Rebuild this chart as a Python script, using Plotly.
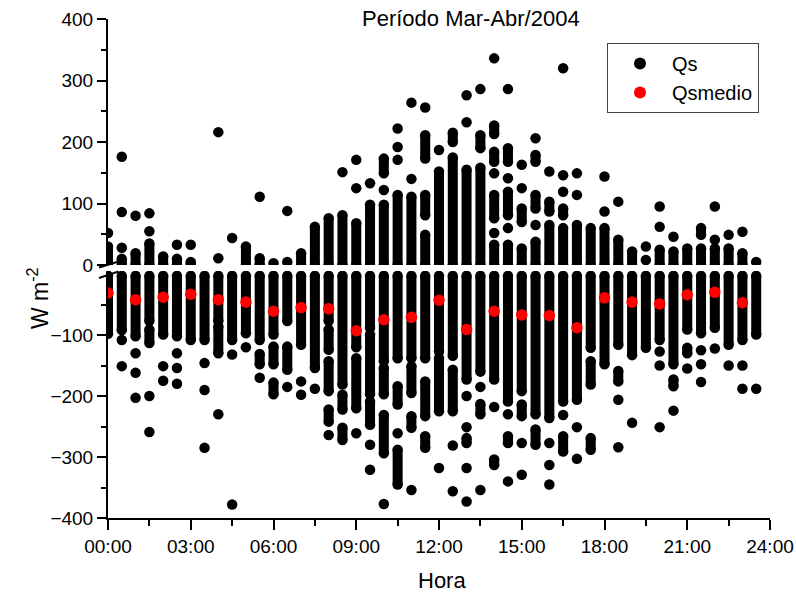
import plotly.graph_objects as go

# ---------------- data ----------------
hours = [0, 0.5, 1, 1.5, 2, 2.5, 3, 3.5, 4, 4.5, 5, 5.5, 6, 6.5, 7, 7.5,
         8, 8.5, 9, 9.5, 10, 10.5, 11, 11.5, 12, 12.5, 13, 13.5, 14, 14.5, 15, 15.5,
         16, 16.5, 17, 17.5, 18, 18.5, 19, 19.5, 20, 20.5, 21, 21.5, 22, 22.5, 23, 23.5]

# Qs, positive part: per half-hour, runs of observations [from, to] (dense runs) or single dots [v, v]
qs_pos = [
    [[0, 30], [52, 52]],
    [[0, 10], [28, 28], [86, 86], [176, 176]],
    [[0, 19], [80, 80]],
    [[0, 35], [55, 55], [84, 84]],
    [[0, 14]],
    [[0, 10], [33, 33]],
    [[0, 5], [33, 33]],
    [],
    [[11, 11], [216, 216]],
    [[44, 44]],
    [[0, 30]],
    [[0, 11], [111, 111]],
    [[3, 3]],
    [[5, 5], [88, 88]],
    [[0, 19]],
    [[0, 62]],
    [[0, 76]],
    [[0, 81], [151, 151]],
    [[0, 68], [125, 125], [171, 171]],
    [[0, 98], [133, 133]],
    [[0, 98], [122, 122], [149, 173]],
    [[0, 114], [171, 171], [192, 192], [222, 222]],
    [[0, 111], [140, 140], [264, 264]],
    [[0, 49], [81, 114], [173, 211], [256, 256]],
    [[0, 152], [187, 187]],
    [[0, 175], [200, 215]],
    [[0, 155], [232, 232], [276, 276]],
    [[0, 158], [190, 211], [286, 286]],
    [[0, 33], [52, 52], [76, 114], [149, 149], [168, 184], [213, 227], [336, 336]],
    [[0, 33], [60, 60], [81, 119], [141, 141], [168, 190], [286, 286]],
    [[0, 27], [70, 92], [125, 125], [163, 163]],
    [[0, 38], [65, 65], [92, 114], [168, 179], [206, 206]],
    [[0, 65], [87, 103], [152, 152]],
    [[0, 60], [81, 92], [119, 119], [146, 146], [320, 320]],
    [[0, 65], [114, 114], [149, 149]],
    [[0, 60]],
    [[0, 60], [87, 87], [144, 144]],
    [[0, 41], [103, 103]],
    [[0, 22]],
    [[8, 8], [30, 30]],
    [[0, 25], [62, 62], [95, 95]],
    [[0, 22], [46, 46]],
    [[0, 27]],
    [[0, 27], [49, 60]],
    [[0, 27], [41, 41], [95, 95]],
    [[0, 27], [49, 49]],
    [[0, 19], [54, 54]],
    [[5, 5]],
]

# Qs, negative part
qs_neg = [
    [[-3, -98]],
    [[-3, -92], [-108, -108], [-151, -151]],
    [[-3, -102], [-130, -130], [-162, -162], [-203, -203]],
    [[-3, -77], [-91, -113], [-200, -200], [-259, -259]],
    [[-3, -99], [-151, -151], [-175, -175]],
    [[-3, -102], [-130, -130], [-154, -154], [-180, -180]],
    [[-3, -108]],
    [[-3, -108], [-146, -146], [-190, -190], [-285, -285]],
    [[-3, -77], [-86, -130], [-230, -230]],
    [[-3, -108], [-132, -132], [-378, -378]],
    [[-3, -97], [-120, -120]],
    [[-3, -108], [-131, -148], [-170, -170]],
    [[-3, -99], [-119, -148], [-178, -197]],
    [[-3, -77], [-119, -157], [-185, -185]],
    [[-3, -116], [-176, -176], [-198, -198]],
    [[-3, -154], [-188, -188]],
    [[-3, -77], [-91, -124], [-143, -192], [-222, -242], [-264, -264]],
    [[-3, -181], [-198, -222], [-252, -272]],
    [[-3, -120], [-138, -220], [-261, -261]],
    [[-3, -88], [-99, -197], [-209, -247], [-280, -280], [-321, -321]],
    [[-3, -143], [-154, -197], [-231, -294], [-377, -377]],
    [[-3, -138], [-184, -214], [-261, -261], [-288, -345]],
    [[-3, -138], [-151, -195], [-233, -252], [-354, -354]],
    [[-3, -138], [-176, -233], [-266, -285]],
    [[-3, -127], [-138, -225], [-318, -318]],
    [[-3, -134], [-157, -225], [-281, -281], [-356, -356]],
    [[-3, -173], [-200, -200], [-251, -251], [-269, -277], [-318, -318], [-373, -373]],
    [[-3, -160], [-185, -185], [-213, -230], [-354, -354]],
    [[-3, -173], [-218, -218], [-304, -313]],
    [[-3, -209], [-230, -230], [-266, -277], [-340, -340]],
    [[-3, -192], [-214, -233], [-277, -277], [-329, -329]],
    [[-3, -230], [-255, -280]],
    [[-3, -236], [-277, -277], [-313, -313], [-345, -345]],
    [[-3, -209], [-231, -231], [-266, -291]],
    [[-3, -206], [-251, -251], [-303, -303]],
    [[-3, -121], [-143, -181], [-269, -288]],
    [[-3, -148]],
    [[-3, -116], [-159, -176], [-206, -206], [-284, -284]],
    [[-3, -133], [-244, -244]],
    [[-3, -121]],
    [[-3, -108], [-127, -127], [-150, -150], [-251, -251]],
    [[-3, -148], [-173, -184], [-224, -224]],
    [[-3, -91], [-121, -130], [-155, -155]],
    [[-3, -97], [-125, -125], [-148, -148], [-177, -177]],
    [[-3, -88], [-122, -122]],
    [[-3, -116], [-150, -150]],
    [[-3, -108], [-150, -150], [-188, -188]],
    [[-3, -99], [-188, -188]],
]

medio_hours = [0, 1, 2, 3, 4, 5, 6, 7, 8, 9, 10, 11,
               12, 13, 14, 15, 16, 17, 18, 19, 20, 21, 22, 23]
qs_medio = [-31, -42, -38, -33, -42, -46, -61, -55, -57, -93, -75, -71,
            -43, -91, -61, -67, -68, -88, -39, -46, -49, -34, -30, -47]

x_ticks = [0, 3, 6, 9, 12, 15, 18, 21, 24]
x_labels = ["00:00", "03:00", "06:00", "09:00", "12:00", "15:00", "18:00", "21:00", "24:00"]
x_minor = [1.5, 4.5, 7.5, 10.5, 13.5, 16.5, 19.5, 22.5]
y_top_ticks = [0, 100, 200, 300, 400]
y_top_minor = [50, 150, 250, 350]
y_bot_ticks = [-400, -300, -200, -100]
y_bot_minor = [-350, -250, -150, -50]

# ---------------- build traces ----------------
FONT = "Liberation Sans, Arial, sans-serif"
DOT = 10.5


def runs_to_xy(runs_per_col):
    lx, ly, mx, my = [], [], [], []
    for h, runs in zip(hours, runs_per_col):
        for a, b in runs:
            if a != b:
                lx += [h, h, None]
                ly += [a, b, None]
                mx += [h, h]
                my += [a, b]
            else:
                mx.append(h)
                my.append(a)
    return lx, ly, mx, my


tlx, tly, tmx, tmy = runs_to_xy(qs_pos)
blx, bly, bmx, bmy = runs_to_xy(qs_neg)

fig = go.Figure()
line_style = dict(color="black", width=DOT - 0.5)
fig.add_trace(go.Scatter(x=tlx, y=tly, mode="lines", line=line_style,
                         xaxis="x", yaxis="y", showlegend=False, hoverinfo="skip"))
fig.add_trace(go.Scatter(x=blx, y=bly, mode="lines", line=line_style,
                         xaxis="x", yaxis="y2", showlegend=False, hoverinfo="skip"))
fig.add_trace(go.Scatter(x=tmx, y=tmy, mode="markers", name="Qs",
                         marker=dict(color="black", size=DOT, line=dict(width=0)),
                         xaxis="x", yaxis="y", showlegend=True))
fig.add_trace(go.Scatter(x=bmx, y=bmy, mode="markers", name="Qs",
                         marker=dict(color="black", size=DOT, line=dict(width=0)),
                         xaxis="x", yaxis="y2", showlegend=False))
fig.add_trace(go.Scatter(x=medio_hours, y=qs_medio, mode="markers", name="Qsmedio",
                         marker=dict(color="#ff0000", size=11.5, line=dict(width=0)),
                         xaxis="x", yaxis="y2"))

# ---------------- layout ----------------
L, R, T, B = 108, 26, 19, 78
W, H = 796, 596
PW, PH = W - L - R, H - T - B


def px_x(x):
    return (x - L) / PW


def px_y(y):
    return (H - B - y) / PH


axis_common = dict(showline=True, linecolor="black", linewidth=2, ticks="outside",
                   tickcolor="black", tickwidth=2, showgrid=False, zeroline=False,
                   ticklabeloverflow="allow", automargin=False,
                   tickfont=dict(family=FONT, size=19, color="black"))

fig.update_layout(
    width=W, height=H, autosize=False,
    margin=dict(l=L, r=R, t=T, b=B, pad=0),
    paper_bgcolor="white", plot_bgcolor="white",
    font=dict(family=FONT, color="black"),
    xaxis=dict(range=[0, 24], domain=[0, 1], anchor="y2",
               tickmode="array", tickvals=x_ticks, ticktext=x_labels, ticklen=10,
               minor=dict(tickmode="array", tickvals=x_minor, ticklen=6, ticks="outside",
                          tickcolor="black", tickwidth=2),
               **axis_common),
    yaxis=dict(range=[0, 400], domain=[px_y(265), 1], anchor="x",
               tickmode="array", tickvals=y_top_ticks, ticklen=9,
               minor=dict(tickmode="array", tickvals=y_top_minor, ticklen=5, ticks="outside",
                          tickcolor="black", tickwidth=2),
               **axis_common),
    yaxis2=dict(range=[-400, 5], domain=[0, px_y(271)], anchor="x",
                tickmode="array", tickvals=y_bot_ticks, ticklen=9,
                minor=dict(tickmode="array", tickvals=y_bot_minor, ticklen=5, ticks="outside",
                           tickcolor="black", tickwidth=2),
                **axis_common),
    legend=dict(x=px_x(607), xanchor="left", y=px_y(43), yanchor="top",
                bgcolor="white", bordercolor="#444444", borderwidth=1,
                font=dict(family=FONT, size=20, color="black"),
                itemsizing="constant", itemwidth=54, tracegroupgap=0),
    showlegend=True,
)

fig.add_annotation(text="Período Mar-Abr/2004", xref="paper", yref="paper",
                   x=px_x(471), y=px_y(18), xanchor="center", yanchor="middle",
                   showarrow=False, font=dict(family=FONT, size=22, color="black"))
fig.add_annotation(text="Hora", xref="paper", yref="paper",
                   x=px_x(442), y=px_y(580), xanchor="center", yanchor="middle",
                   showarrow=False, font=dict(family=FONT, size=22, color="black"))
fig.add_annotation(text="W m<sup>-2</sup>", xref="paper", yref="paper",
                   x=px_x(38), y=px_y(298), xanchor="center", yanchor="middle",
                   textangle=-90, showarrow=False,
                   font=dict(family=FONT, size=23, color="black"))

# axis break marks
for (x0, y0, x1, y1) in [(99, 267.5, 117, 262), (99, 278, 118.5, 271.5)]:
    fig.add_shape(type="line", xref="paper", yref="paper",
                  x0=px_x(x0), y0=px_y(y0), x1=px_x(x1), y1=px_y(y1),
                  line=dict(color="black", width=2))

fig.write_html("out.html")
